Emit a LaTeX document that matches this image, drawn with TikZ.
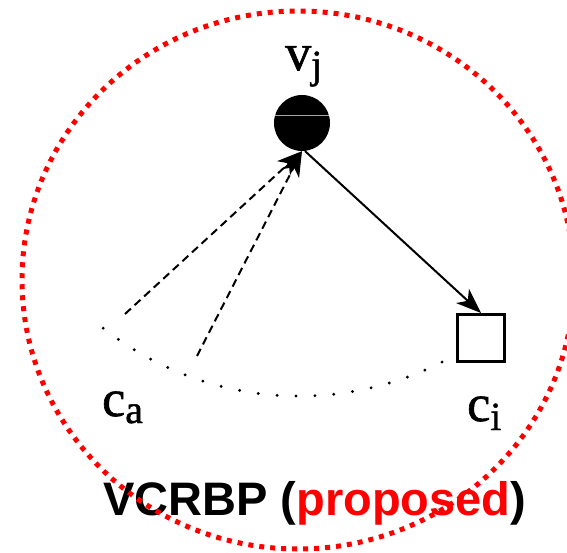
\documentclass[tikz,border=0pt]{standalone}
\usepackage{fontspec}
\setmainfont{Liberation Serif}
\newfontfamily\labelfont[FakeBold=1.2]{Liberation Serif}
\newfontfamily\titlefont{Liberation Sans}
\usetikzlibrary{arrows.meta}

\tikzset{
  bigtext/.style={anchor=base west, inner sep=0pt, font=\labelfont\fontsize{52}{52}\selectfont},
  vertex/.style={circle, fill=black, minimum size=56pt, inner sep=0pt},
  cellbox/.style={rectangle, draw=black, line width=3pt, fill=white, minimum size=47pt, inner sep=0pt},
  headtip/.style={-{Stealth[length=25pt, width=19pt, inset=7pt]}},
  solidlink/.style={line width=2pt, headtip},
  dashlink/.style={line width=2pt, dash pattern=on 8pt off 5pt, headtip},
  rangedot/.style={fill=black},
  redring/.style={draw=red, line width=5pt, dash pattern=on 5pt off 6pt}
}
\newcommand{\lowsub}[2]{\raisebox{-#1pt}{\labelfont\fontsize{40}{40}\selectfont #2}}

\begin{document}
\begin{tikzpicture}[x=1pt, y=-1pt]
  \useasboundingbox (0,0) rectangle (567,553);

  % nodes
  \node[vertex] (vj) at (302,123) {};
  \draw[gray!70, line width=0.7pt] (275.2,115) -- (328.8,115);
  \node[cellbox] (ci) at (481,338) {};

  % labels
  \node[bigtext] (vjlabel) at (285,70) {v\lowsub{8}{j}};
  \node[bigtext] (calabel) at (102,416) {c\lowsub{7}{a}};
  \node[bigtext] (cilabel) at (467,421) {c\lowsub{9}{i}};

  % free ends of the dashed links
  \coordinate (s1) at (125,314);
  \coordinate (s2) at (197,356);

  % links
  \draw[solidlink] (vj.-84) -- (ci.north);
  \draw[dashlink] (s1) -- (vj.south);
  \draw[dashlink] (s2) -- (vj.south);

  % dotted range arc
  \foreach \k in {0,...,19}{
    \pgfmathsetmacro{\ang}{128.2-3.42*\k}
    \fill[rangedot] ({299.2+317*cos(\ang)},{79.1+317*sin(\ang)}) circle (1.6pt);
  }

  % title
  \node[anchor=base west, inner sep=0pt] (title) at (103,515)
    {\titlefont\bfseries\fontsize{47}{47}\selectfont VCRBP (\textcolor{red}{proposed})};

  % red dotted boundary
  \draw[redring] (298,280) ellipse [x radius=276, y radius=269];
\end{tikzpicture}
\end{document}
